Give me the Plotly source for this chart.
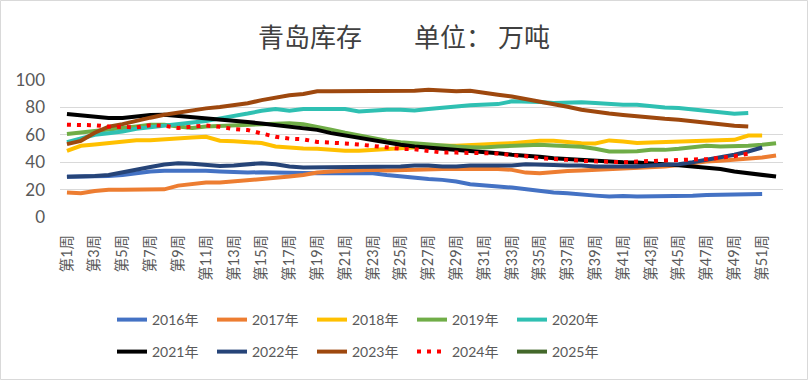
import plotly.graph_objects as go

weeks = [f"第{i}周" for i in range(1, 53)]
tick_weeks = weeks[::2]
y_ticks = [0, 20, 40, 60, 80, 100]

v2016 = [29.3, 29.3, 29.5, 30, 30.7, 32, 33.2, 33.7, 33.9, 33.9,
         33.7, 33.2, 32.7, 32.4, 32.7, 32.4, 32, 32, 32, 32,
         32, 32, 32, 30.7, 29.5, 29, 27.8, 27.1, 25.9, 23.9,
         23.4, 22.2, 21.5, 20.2, 18.5, 17.8, 17.3, 16.1, 15.6, 14.9,
         15.4, 14.9, 14.9, 14.9, 15.4, 15.6, 16.1, 16.1, 16.6, 16.8,
         16.8]
v2017 = [17.8, 17.3, 19, 19.8, 19.8, 19.8, 19.8, 20.2, 22.9, 23.9,
         25.1, 25.1, 25.9, 27.1, 27.6, 28.3, 29.5, 30.7, 32.4, 33.2,
         33.7, 34.4, 34.4, 34, 34.4, 34.4, 35.1, 35.1, 35.1, 35.1,
         35.6, 35.1, 34.4, 32.4, 32, 32.4, 33.5, 34, 34.5, 35,
         35.3, 35.6, 36.1, 36.8, 38, 39.3, 40.5, 41, 41.7, 42.2,
         43.4, 44.9]
v2018 = [48.3, 52, 53, 54, 55.3, 56, 56.1, 56.5, 57, 58,
         58.5, 55.7, 55.3, 55, 54, 51.5, 50.5, 50, 49.8, 49,
         48.3, 48.3, 49, 49.8, 49.8, 50.7, 51.5, 52, 52, 52.7,
         53.2, 53.4, 53.9, 55.1, 55.6, 55.6, 54.6, 53.9, 53.6, 55.9,
         55.1, 54, 54.4, 54.6, 55.1, 55.6, 55.9, 56.1, 56.3, 59.5,
         59.5]
v2019 = [60.5, 61.5, 62.5, 63.7, 64.9, 66, 67.3, 67.3, 66, 65,
         66, 66.5, 67, 67.5, 68, 68.5, 68.5, 67.7, 66, 63.8,
         61.5, 59.5, 57.6, 55.6, 54.6, 53.7, 52.7, 52, 51.5, 51,
         50.7, 51.5, 52, 52.7, 52.7, 52.2, 51.7, 51.2, 49.8, 47.8,
         47.8, 48, 49, 49, 49.8, 50.7, 52, 51.5, 51.5, 52,
         52.7, 53.9]
v2020 = [54.6, 57, 60, 61.2, 62.4, 64.4, 65.4, 66.6, 67.3, 68.3,
         70, 72, 73.5, 75.5, 77.5, 78.8, 77.6, 78.8, 78.8, 78.8,
         78.8, 77, 77.8, 78.3, 78.3, 77.8, 78.8, 80, 80.7, 81.5,
         82, 82.4, 84.4, 84.4, 83.9, 83.2, 83.7, 83.7, 83.2, 82.4,
         82, 82, 80.7, 80, 79.5, 78.3, 77.6, 76.3, 75.4, 75.9]
v2021 = [75.1, 74.1, 73, 72.2, 72.2, 73.4, 74.5, 74.6, 73.8, 73,
         72.4, 71.4, 70.4, 69.3, 68.3, 67.2, 65.8, 64.8, 63.6, 61.2,
         59.5, 57.5, 55.6, 54, 52.7, 51.5, 50.7, 49.8, 49, 48.3,
         47.8, 46.6, 45.4, 44.9, 43.9, 42.9, 42.2, 41.5, 41, 40.5,
         40, 39.8, 39.3, 38.6, 37.7, 36.8, 36, 35.1, 33.2, 32,
         30.5, 29.5]
v2022 = [29.3, 29.5, 30, 30.7, 32.4, 34.4, 36.5, 38.3, 39.3, 38.8,
         38, 37.2, 37.6, 38.5, 39.3, 38.5, 36.8, 36.1, 36.1, 36.1,
         36.8, 36.1, 36.1, 36.8, 36.8, 37.6, 37.6, 36.8, 36.8, 37.6,
         37.6, 37.6, 37.6, 38.5, 38.5, 38, 37.6, 37.6, 36.8, 36.8,
         36.8, 36.8, 37.6, 38, 38.5, 40, 41.7, 43.4, 45.4, 47.8,
         50.7]
v2023 = [53.2, 55.6, 61.5, 66, 67.8, 69.8, 72.5, 74.6, 76.3, 78,
         79.3, 80.3, 81.5, 83, 85.3, 87.3, 88.8, 89.8, 91.7, 91.7,
         91.7, 91.7, 91.7, 92.2, 91.7, 92.2, 92.9, 92.4, 91.7, 92.2,
         90.5, 89.3, 88, 86.3, 84.4, 82.4, 80.5, 78.3, 76.6, 75.6,
         74.5, 73.4, 72.2, 71.7, 71, 69.8, 68.5, 67.3, 66.6, 66.1]
v2024 = [67.3, 67.3, 67, 66, 65.6, 65.4, 67, 66.6, 65, 65.6,
         66.8, 65.8, 64.2, 63.5, 61, 58.5, 57.2, 56.7, 54.8, 53.9,
         53.7, 52.9, 52, 50.5, 49.8, 49.5, 48.3, 47, 47, 47,
         47, 46.3, 45.1, 44.4, 42.9, 42, 41.7, 41, 40.5, 40,
         40, 40.5, 41, 41.2, 41.7, 42, 42.2, 43.2, 44.4, 46.3]
v2025 = [46.5]

series = [
    ("2016年", v2016, "#4472C4", "solid", "legend"),
    ("2017年", v2017, "#ED7D31", "solid", "legend"),
    ("2018年", v2018, "#FFC000", "solid", "legend"),
    ("2019年", v2019, "#70AD47", "solid", "legend"),
    ("2020年", v2020, "#2FC0B2", "solid", "legend"),
    ("2021年", v2021, "#000000", "solid", "legend2"),
    ("2022年", v2022, "#264478", "solid", "legend2"),
    ("2023年", v2023, "#9E480E", "solid", "legend2"),
    ("2024年", v2024, "#FF0000", "4px,6px", "legend2"),
    ("2025年", v2025, "#43682B", "solid", "legend2"),
]

FONT = "Lato, 'Noto Sans CJK SC', sans-serif"
TXT = "#595959"

fig = go.Figure()
for name, vals, color, dash, lg in series:
    fig.add_trace(go.Scatter(
        x=weeks[:len(vals)], y=vals, name=name, mode="lines",
        line=dict(color=color, width=4, dash=dash),
        legend=lg,
    ))

W, H = 808, 380
L, R, T, B = 60, 25, 80, 163
pw, ph = W - L - R, H - T - B

leg_common = dict(
    orientation="h", xanchor="left", yanchor="middle",
    font=dict(family=FONT, size=14, color=TXT),
    entrywidth=55, entrywidthmode="pixels",
    bgcolor="rgba(0,0,0,0)", traceorder="normal",
)

fig.update_layout(
    width=W, height=H,
    margin=dict(l=L, r=R, t=T, b=B),
    paper_bgcolor="white", plot_bgcolor="white",
    title=dict(text="青岛库存\u3000\u3000单位： 万吨", x=0.5, xanchor="center",
               y=1 - 38 / H, yanchor="middle",
               font=dict(family="'Noto Sans CJK SC', sans-serif", size=26, color="#404040")),
    showlegend=True,
    legend=dict(x=(112 - L) / pw, y=(T + ph - 320) / ph, **leg_common),
    legend2=dict(x=(112 - L) / pw, y=(T + ph - 352) / ph, **leg_common),
    xaxis=dict(
        type="category", categoryorder="array", categoryarray=weeks,
        range=[-0.5, 51.5], tickmode="array", tickvals=tick_weeks,
        tickangle=-90, tickfont=dict(family=FONT, size=14.5, color=TXT),
        showgrid=False, showline=False, zeroline=False, ticks="",
        ticklabelstandoff=14,
    ),
    yaxis=dict(
        range=[0, 100], tickmode="array", tickvals=y_ticks,
        tickfont=dict(family=FONT, size=17, color=TXT),
        showgrid=True, gridcolor="#D9D9D9", gridwidth=1,
        zeroline=False, showline=False, ticks="",
        ticklabelstandoff=14,
    ),
    shapes=[dict(type="rect", xref="paper", yref="paper",
                 x0=(0.5 - L) / pw, x1=(W - 0.5 - L) / pw,
                 y0=(0.5 - B) / ph, y1=(H - 0.5 - B) / ph,
                 line=dict(color="#D9D9D9", width=1), fillcolor="rgba(0,0,0,0)",
                 layer="below")],
)

fig.write_html("out.html", config={"displayModeBar": False},
               post_script="document.body.style.margin='0px';")
